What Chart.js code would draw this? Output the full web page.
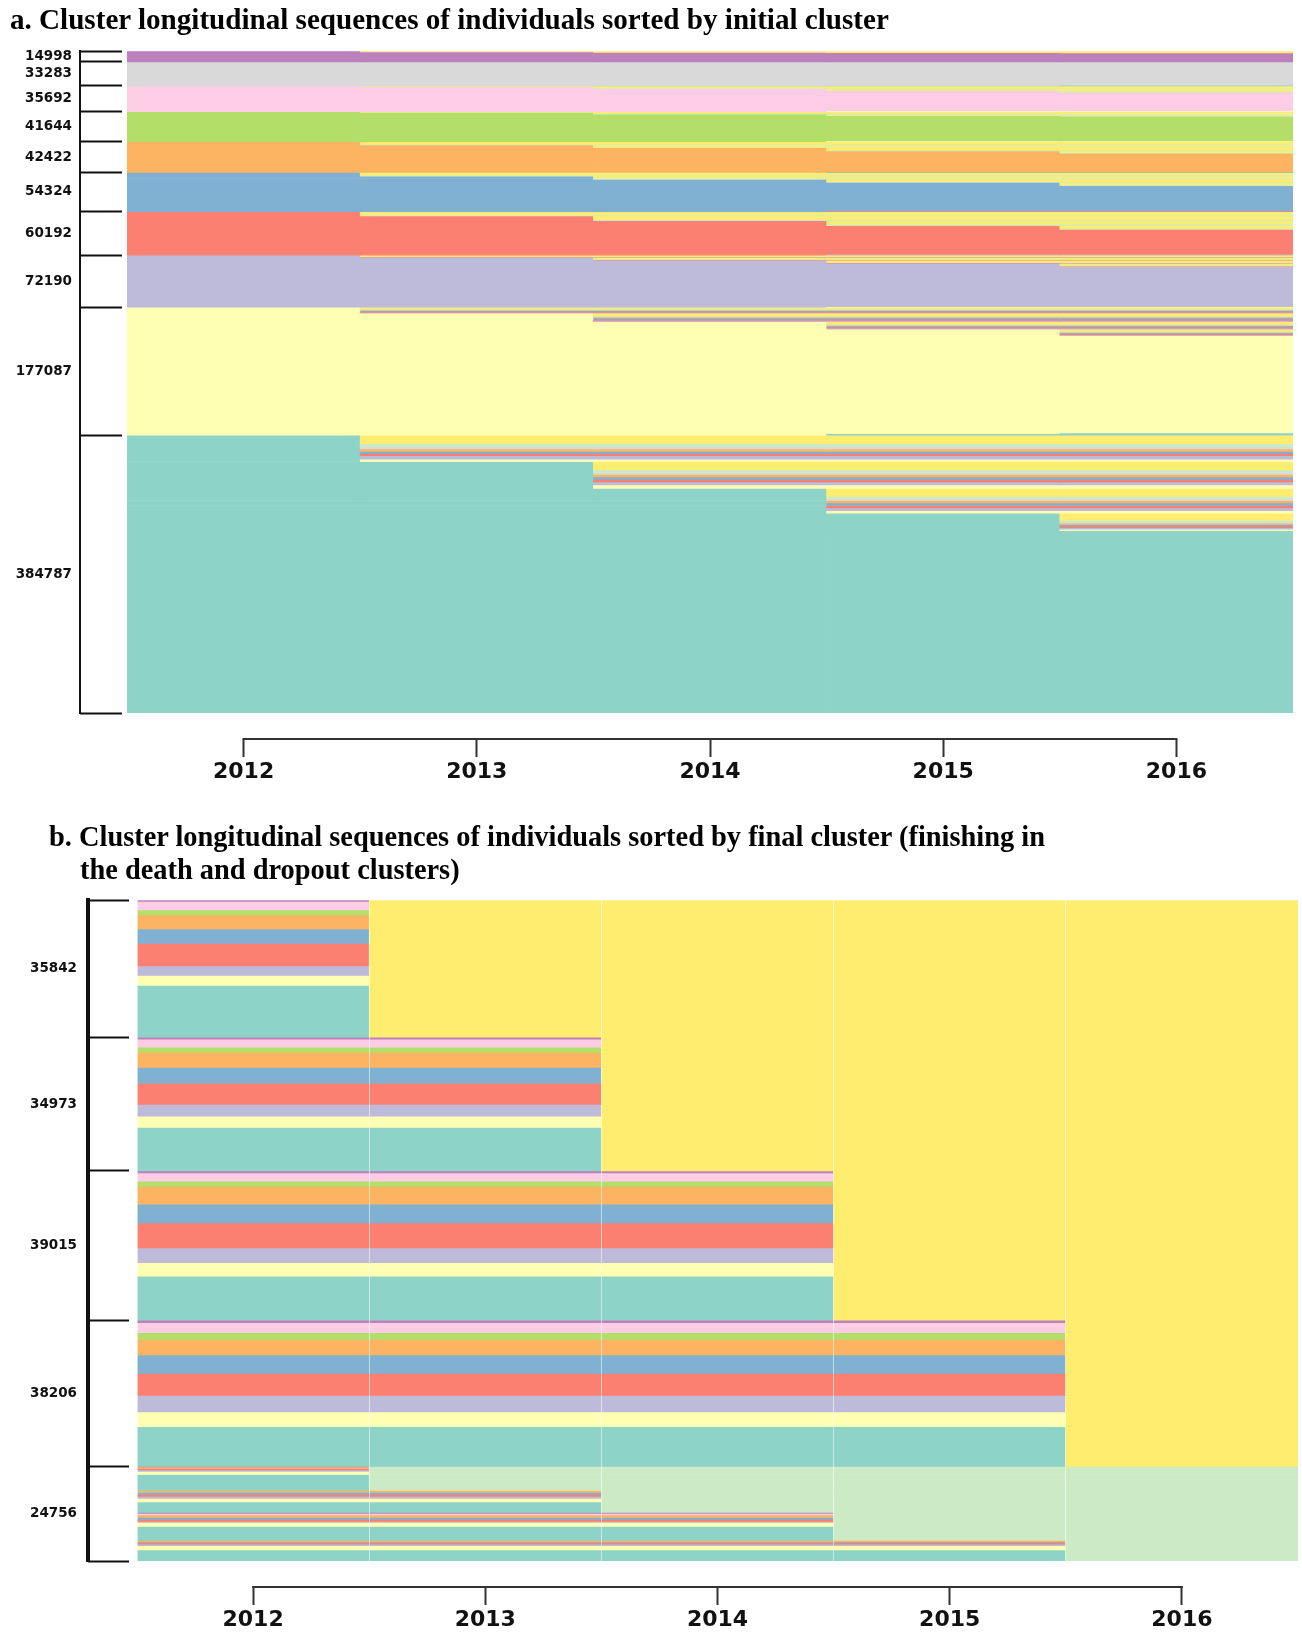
<!DOCTYPE html>
<html>
<head>
<meta charset="utf-8">
<script src="https://cdn.jsdelivr.net/npm/chart.js@4.4.1/dist/chart.umd.min.js"></script>
<style>
  html, body { margin: 0; padding: 0; background: #fff; }
  body { width: 1302px; height: 1635px; position: relative; overflow: hidden; }
  .panel { position: absolute; left: 0; }
  .title {
    position: absolute;
    font-family: "Liberation Serif", "Times New Roman", serif;
    font-weight: bold;
    color: #000;
    white-space: nowrap;
  }
</style>
</head>
<body>
<canvas id="chartInitial" class="panel" width="1302" height="800" style="top:0;width:1302px;height:800px"></canvas>
<canvas id="chartFinal" class="panel" width="1302" height="755" style="top:880px;width:1302px;height:755px"></canvas>

<div class="title" style="left:10px;top:4px;line-height:30px;font-size:29.1px">a. Cluster longitudinal sequences of individuals sorted by initial cluster</div>
<div class="title" style="left:49px;top:820px;line-height:33px;font-size:28.4px">b. Cluster longitudinal sequences of individuals sorted by final cluster (finishing in<br><span style="padding-left:31px">the death and dropout clusters)</span></div>

<script>
// Cluster codes used in the sequences below (one letter per year, 2012-2016)
const clusterColours = {
  D: '#ffed6f', // death
  X: '#ccebc5', // dropout
  U: '#bc80bd',
  R: '#d9d9d9',
  P: '#fccde5',
  G: '#b3de69',
  O: '#fdb462',
  B: '#80b1d3',
  S: '#fb8072',
  L: '#bebada',
  Y: '#ffffb3',
  T: '#8dd3c7'
};

const years = ['2012', '2013', '2014', '2015', '2016'];

// Group sizes shown on the left axis of each panel
const initialGroupSizes = [14998, 33283, 35692, 41644, 42422, 54324, 60192, 72190, 177087, 384787];
const finalGroupSizes = [35842, 34973, 39015, 38206, 24756];

// Panel a: bands of individuals within each initial cluster, [count, clusters 2012..2016]
const startPurple = [[1400, 'UDDDD'], [400, 'UUDDD'], [600, 'UUUDD'], [300, 'UUUUD'], [12298, 'UUUUU']];
const startGrey = [[32383, 'RRRRR'], [300, 'RRRRT'], [300, 'RRRTT'], [300, 'RRTTT']];
const startPink = [[730, 'PDDDD'], [240, 'PXXXX'], [1870, 'PPDDD'], [630, 'PPXXX'], [2600, 'PPPDD'], [860, 'PPPXX'],
  [1450, 'PPPPD'], [490, 'PPPPX'], [25822, 'PPPPP'], [1000, 'PPPYY']];
const startGreen = [[730, 'GDDDD'], [240, 'GXXXX'], [1870, 'GGDDD'], [630, 'GGXXX'], [1560, 'GGGDD'], [520, 'GGGXX'],
  [520, 'GGGGD'], [180, 'GGGGX'], [34194, 'GGGGG'], [1200, 'GGGYY']];
const startOrange = [[3430, 'ODDDD'], [1140, 'OXXXX'], [2800, 'OODDD'], [940, 'OOXXX'], [3430, 'OOODD'], [1140, 'OOOXX'],
  [2390, 'OOOOD'], [800, 'OOOOX'], [25552, 'OOOOO'], [800, 'OOOBB']];
const startBlue = [[3840, 'BDDDD'], [1280, 'BXXXX'], [3430, 'BBDDD'], [1140, 'BBXXX'], [3110, 'BBBDD'], [1040, 'BBBXX'],
  [3430, 'BBBBD'], [1140, 'BBBBX'], [35114, 'BBBBB'], [800, 'BBBSS']];
const startSalmon = [[4470, 'SDDDD'], [1490, 'SXXXX'], [4880, 'SSDDD'], [1630, 'SSXXX'], [5190, 'SSSDD'], [1730, 'SSSXX'],
  [3840, 'SSSSD'], [1280, 'SSSSX'], [34882, 'SSSSS'], [800, 'SSSLL']];
const startLavender = [[1910, 'LDDDD'], [800, 'LXXXX'], [480, 'LSSSS'], [2240, 'LLDDD'], [940, 'LLXXX'], [560, 'LLSSS'],
  [2490, 'LLLDD'], [1040, 'LLLXX'], [620, 'LLLSS'], [2990, 'LLLLD'], [1250, 'LLLLX'], [750, 'LLLLS'],
  [55320, 'LLLLL'], [800, 'LLLYY']];
const startPaleYellow = [
  [2490, 'YDDDD'], [1245, 'YXXXX'], [830, 'YOOOO'], [1245, 'YBBBB'], [1245, 'YSSSS'], [1245, 'YLLLL'],
  [3540, 'YYDDD'], [1770, 'YYXXX'], [1180, 'YYOOO'], [1770, 'YYBBB'], [1770, 'YYSSS'], [1770, 'YYLLL'],
  [3120, 'YYYDD'], [1560, 'YYYXX'], [1040, 'YYYOO'], [1560, 'YYYBB'], [1560, 'YYYSS'], [1560, 'YYYLL'],
  [2700, 'YYYYD'], [1350, 'YYYYX'], [900, 'YYYYO'], [1350, 'YYYYB'], [1350, 'YYYYS'], [1350, 'YYYYL'],
  [134587, 'YYYYY'], [1000, 'YYYYT'], [2000, 'YYYTT']];
const startTeal = [
  [11900, 'TDDDD'], [4600, 'TXXXX'], [2800, 'TRRRR'], [3300, 'TOOOO'], [3200, 'TBBBB'], [2800, 'TSSSS'], [4600, 'TLLLL'], [3300, 'TYYYY'],
  [11500, 'TTDDD'], [4200, 'TTXXX'], [2100, 'TTRRR'], [3500, 'TTOOO'], [3500, 'TTBBB'], [3500, 'TTSSS'], [4200, 'TTLLL'], [4800, 'TTYYY'],
  [11100, 'TTTDD'], [3500, 'TTTXX'], [2100, 'TTTRR'], [3500, 'TTTOO'], [3500, 'TTTBB'], [3500, 'TTTSS'], [3500, 'TTTLL'], [3500, 'TTTYY'],
  [9700, 'TTTTD'], [2800, 'TTTTX'], [1400, 'TTTTR'], [2100, 'TTTTO'], [2100, 'TTTTB'], [2100, 'TTTTS'], [2100, 'TTTTL'], [2100, 'TTTTY'],
  [252387, 'TTTTT']];

// Panel b: bands of individuals within each final (death / dropout) group
const endDeath2013 = [[392, 'UDDDD'], [2222, 'PDDDD'], [1307, 'GDDDD'], [3660, 'ODDDD'], [3738, 'BDDDD'],
  [5934, 'SDDDD'], [2431, 'LDDDD'], [2614, 'YDDDD'], [13544, 'TDDDD']];
const endDeath2014 = [[523, 'UUDDD'], [2091, 'PPDDD'], [1385, 'GGDDD'], [3921, 'OODDD'], [4104, 'BBDDD'],
  [5568, 'SSDDD'], [3058, 'LLDDD'], [2954, 'YYDDD'], [11369, 'TTDDD']];
const endDeath2015 = [[523, 'UUUDD'], [2180, 'PPPDD'], [1363, 'GGGDD'], [4634, 'OOODD'], [4906, 'BBBDD'],
  [6537, 'SSSDD'], [3815, 'LLLDD'], [3543, 'YYYDD'], [11514, 'TTTDD']];
const endDeath2016 = [[680, 'UUUUD'], [2614, 'PPPPD'], [1751, 'GGGGD'], [4052, 'OOOOD'], [4836, 'BBBBD'],
  [5751, 'SSSSD'], [4313, 'LLLLD'], [3843, 'YYYYD'], [10366, 'TTTTD']];
const endDropout = [
  [183, 'UXXXX'], [392, 'OXXXX'], [392, 'SXXXX'], [392, 'LXXXX'], [784, 'YXXXX'], [4131, 'TXXXX'],
  [523, 'OOXXX'], [523, 'BBXXX'], [523, 'SSXXX'], [523, 'LLXXX'], [915, 'YYXXX'], [2744, 'TTXXX'],
  [261, 'UUUXX'], [392, 'PPPXX'], [654, 'OOOXX'], [523, 'BBBXX'], [523, 'SSSXX'], [261, 'LLLXX'], [1046, 'YYYXX'], [3659, 'TTTXX'],
  [392, 'OOOOX'], [261, 'BBBBX'], [392, 'SSSSX'], [392, 'LLLLX'], [1046, 'YYYYX'], [2929, 'TTTTX']];

const initialGroups = [startPurple, startGrey, startPink, startGreen, startOrange, startBlue,
  startSalmon, startLavender, startPaleYellow, startTeal];
const finalGroups = [endDeath2013, endDeath2014, endDeath2015, endDeath2016, endDropout];

Chart.defaults.font.family = '"DejaVu Sans", Verdana, sans-serif';

// One stacked dataset per band; each year's segment takes that year's cluster colour
function bandDatasets(groups) {
  const sets = [];
  groups.forEach(bands => bands.forEach(([count, seq]) => {
    sets.push({
      data: years.map(() => count),
      backgroundColor: seq.split('').map(c => clusterColours[c]),
      borderWidth: 0
    });
  }));
  return sets;
}

function runningTotals(sizes) {
  const out = [0];
  sizes.forEach(s => out.push(out[out.length - 1] + s));
  return out;
}

// Horizontal rule under the bars, from the first to the last year tick
const yearAxisLine = {
  id: 'yearAxisLine',
  afterDraw(chart) {
    const s = chart.scales.xYears;
    const ctx = chart.ctx;
    ctx.save();
    ctx.strokeStyle = '#333';
    ctx.lineWidth = 2;
    ctx.beginPath();
    ctx.moveTo(s.getPixelForValue(0) - 1, s.top);
    ctx.lineTo(s.getPixelForValue(years.length - 1) + 1, s.top);
    ctx.stroke();
    ctx.restore();
  }
};

function buildPanel(canvasId, groups, sizes, look) {
  const bounds = runningTotals(sizes);
  const total = bounds[bounds.length - 1];
  const mids = sizes.map((s, i) => bounds[i] + s / 2);
  return new Chart(document.getElementById(canvasId), {
    type: 'bar',
    data: { labels: years, datasets: bandDatasets(groups) },
    options: {
      responsive: false,
      animation: false,
      events: [],
      layout: { padding: look.padding },
      datasets: { bar: { categoryPercentage: 1, barPercentage: 1 } },
      plugins: { legend: { display: false }, tooltip: { enabled: false }, title: { display: false } },
      scales: {
        x: {
          type: 'category', axis: 'x', position: 'bottom', weight: 0, stacked: true, offset: true,
          // thin light column separators drawn over the bars
          grid: { display: true, z: 1, offset: true, drawOnChartArea: look.separators,
                  color: 'rgba(255,255,255,0.55)', lineWidth: 1,
                  drawTicks: true, tickLength: 26, tickColor: 'rgba(0,0,0,0)' },
          border: { display: false },
          ticks: { display: false },
          afterFit: s => { s.height = 26; }
        },
        xYears: {
          type: 'category', axis: 'x', position: 'bottom', weight: 1, labels: years, offset: true,
          grid: { display: true, offset: false, drawOnChartArea: false, tickLength: 18, tickWidth: 2, tickColor: '#333' },
          border: { display: false },
          ticks: { color: '#111', padding: 2, maxRotation: 0, autoSkip: false,
                   font: { family: '"DejaVu Sans", Verdana, sans-serif', weight: 'bold', size: 22 } },
          afterFit: s => { s.height = 44; }
        },
        y: {
          type: 'linear', axis: 'y', position: 'left', weight: 0, stacked: true, reverse: true, min: 0, max: total,
          grid: { display: true, drawOnChartArea: false, tickLength: look.tickLength, tickWidth: 2, tickColor: '#111',
                  tickBorderDash: [look.tickDrawn, 200] },
          border: { display: false },
          ticks: { display: false },
          afterBuildTicks: s => { s.ticks = bounds.map(v => ({ value: v })); },
          afterFit: s => { s.width = look.tickLength; }
        },
        ySizes: {
          type: 'linear', axis: 'y', position: 'left', weight: 1, reverse: true, min: 0, max: total,
          grid: { display: true, drawOnChartArea: false, drawTicks: false },
          border: { display: true, color: '#111', width: look.axisWidth },
          ticks: { autoSkip: false, padding: look.labelPadding, color: '#111',
                   font: { family: '"DejaVu Sans", Verdana, sans-serif', weight: 'bold', size: 13.5 },
                   callback: (value, index) => String(sizes[index]) },
          afterBuildTicks: s => { s.ticks = mids.map(v => ({ value: v })); },
          afterFit: s => { s.width = look.axisLeft; }
        }
      }
    },
    plugins: [yearAxisLine]
  });
}

buildPanel('chartInitial', initialGroups, initialGroupSizes, {
  padding: { top: 51, right: 9, bottom: 17, left: 0 },
  axisLeft: 80, tickLength: 47, tickDrawn: 42, axisWidth: 2, labelPadding: 8, separators: false
});

buildPanel('chartFinal', finalGroups, finalGroupSizes, {
  padding: { top: 20, right: 4, bottom: 4, left: 0 },
  axisLeft: 88, tickLength: 49, tickDrawn: 41, axisWidth: 4, labelPadding: 11, separators: true
});
</script>
</body>
</html>
